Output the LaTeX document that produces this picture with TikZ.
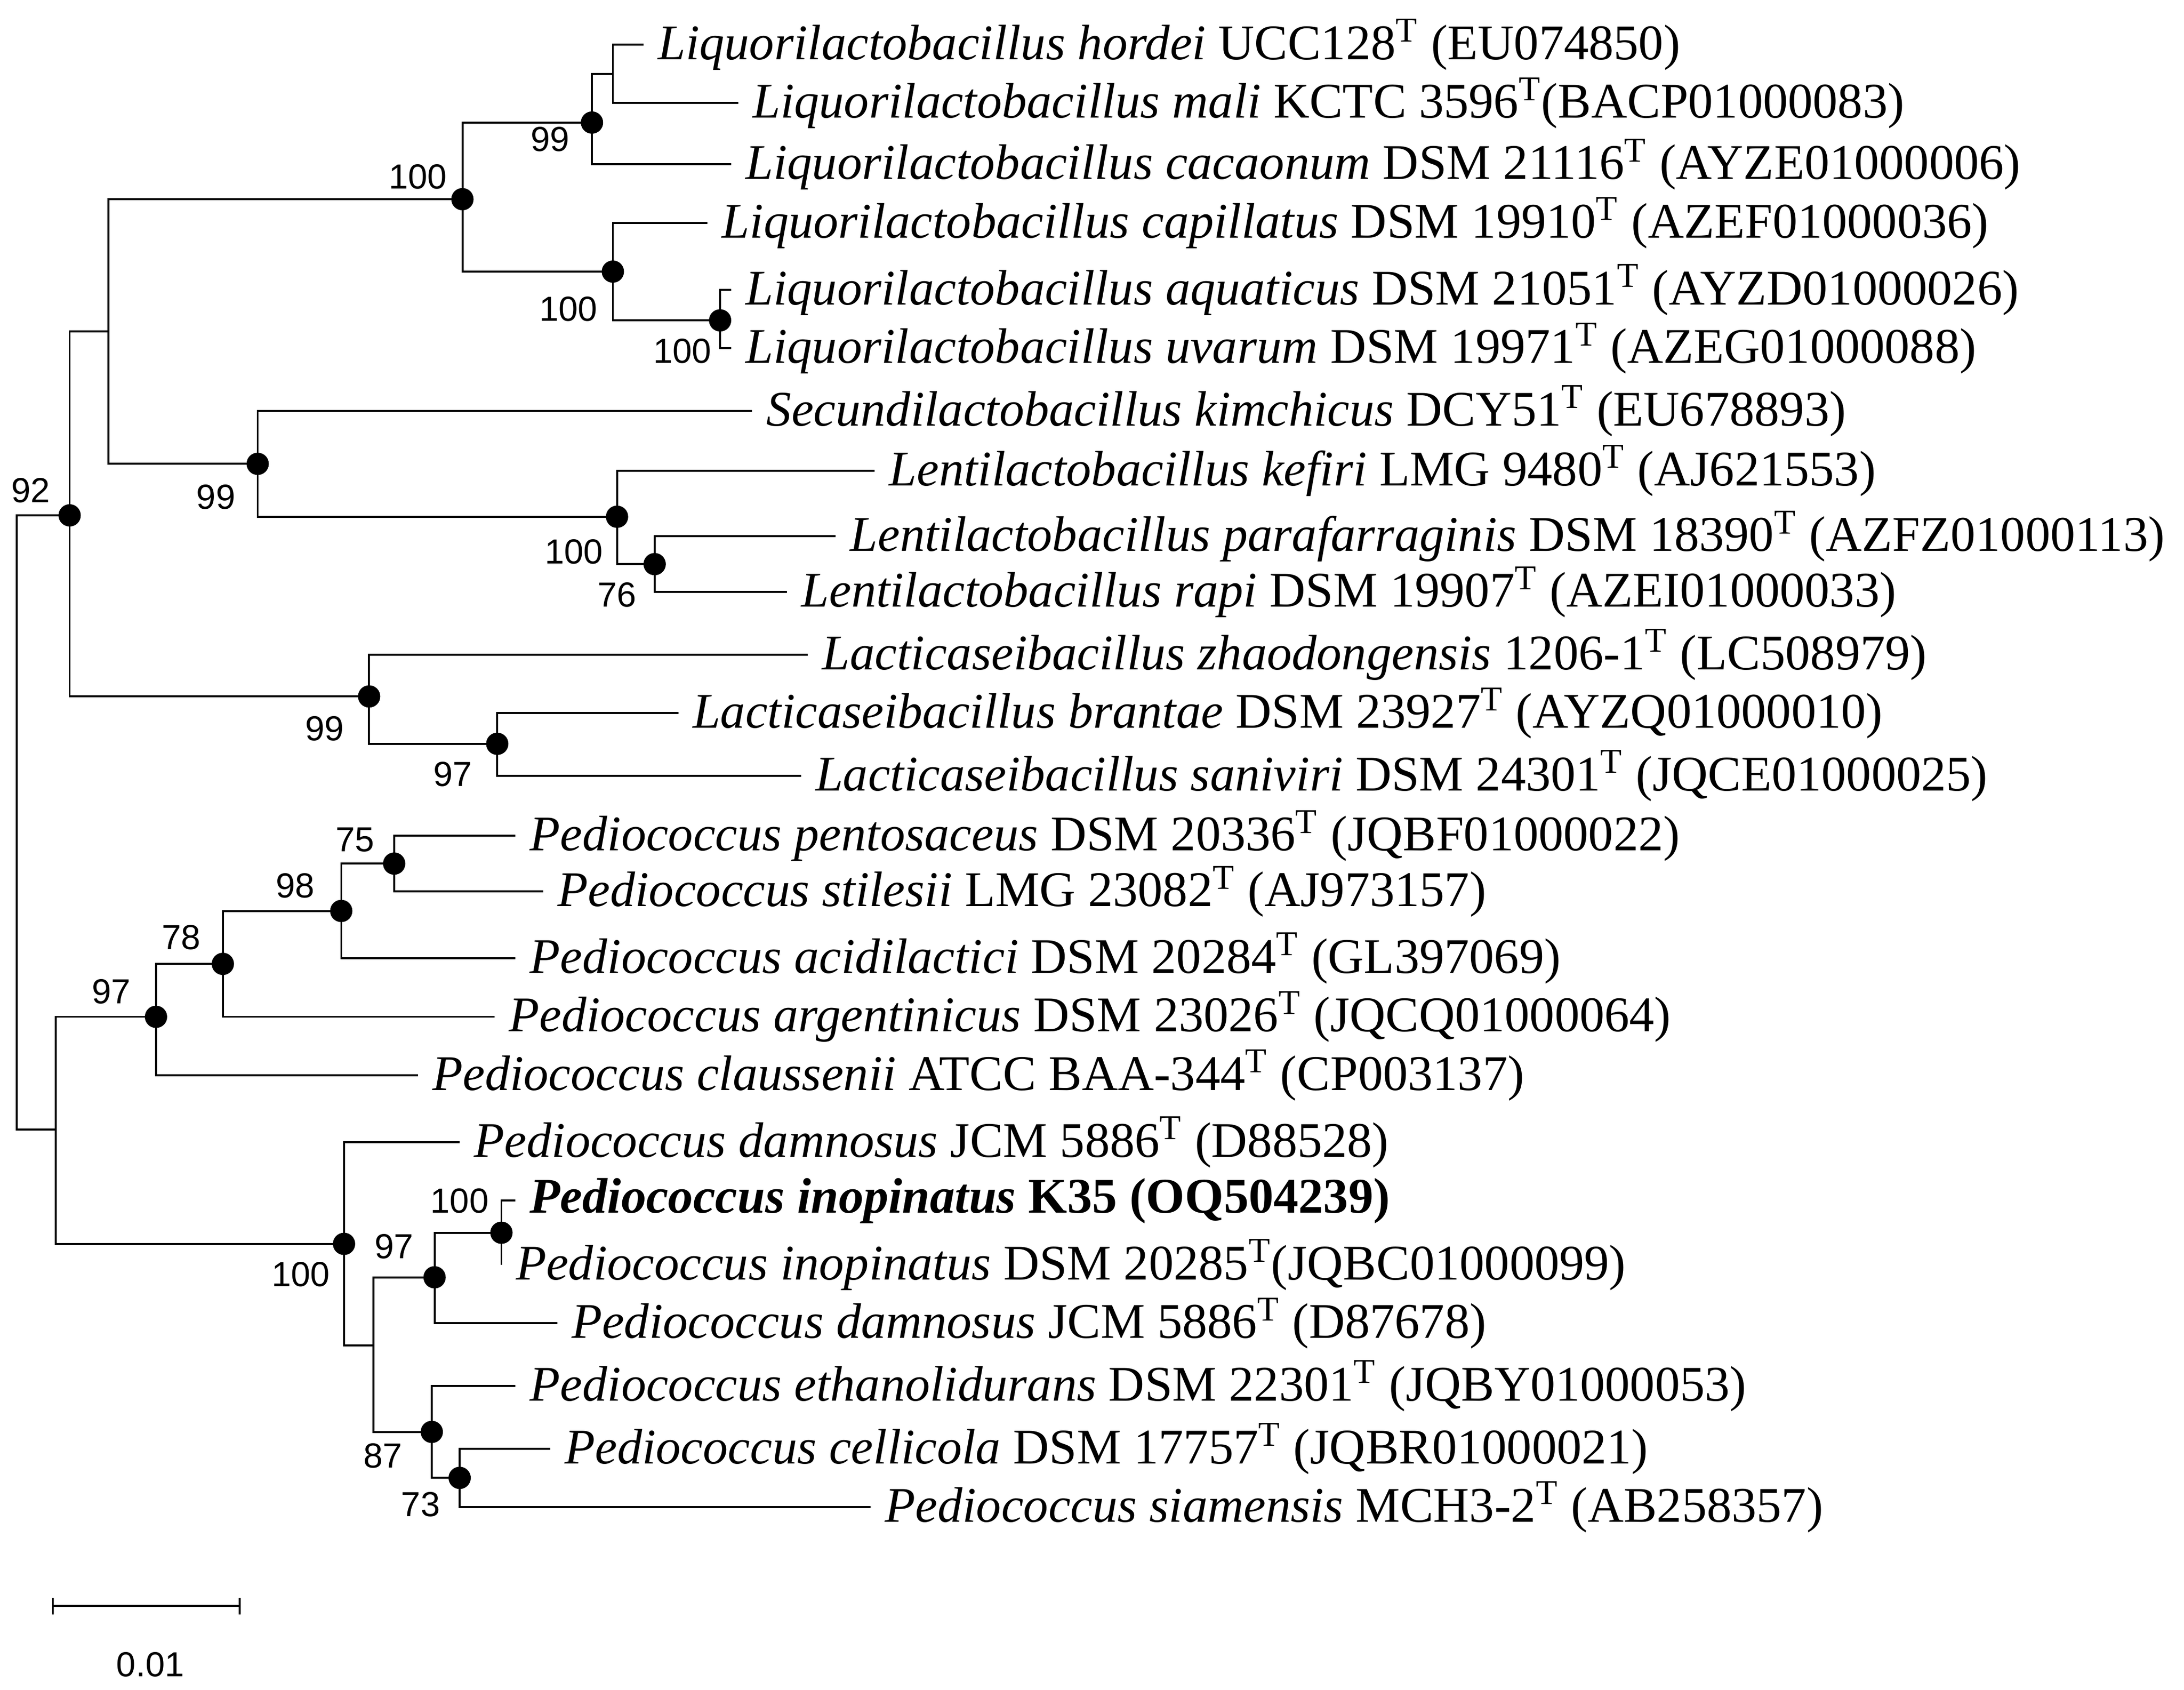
\documentclass[tikz,border=0pt]{standalone}
\usepackage{fontspec}
\setmainfont{Liberation Serif}
\newfontfamily\numfont{Liberation Sans}
\begin{document}
\begin{tikzpicture}[x=0.5pt,y=-0.5pt,
  br/.style={line width=0.7pt},
  dot/.style={circle,fill=black,inner sep=0pt,minimum size=8pt},
  lab/.style={font=\numfont\fontsize{12.5}{13}\selectfont,inner sep=0pt},
  tx/.style={anchor=west,inner sep=0pt,xshift=5pt,font=\fontsize{17.9}{19}\selectfont}]
\useasboundingbox (0,0) rectangle (1568,1213);
% internal nodes
\foreach \n/\x/\y in {R/12/590,N92/50/370,A/78/238,L100/332/143,L99a/425/88,Lx/440/53,L100b/440/195,L100c/517/230,S99/185/333,K100/443/371,K76/470/405,C99/265/500,C97/357/534,NP/40/811,P97/112/730,P78/160/692,P98/245/654,P75/283/620,Q100/247/893,Qx/268/966,Q97/312/917,Q100b/360/885,Q87/310/1028,Q73/330/1061}
  \coordinate (\n) at (\x,\y);
% leaves
\foreach \n/\x/\y in {hor/462/32,mal/530/74,cac/525/118,cap/508/160,aqu/525/208,uva/525/250,sec/540/295,kef/628/338,par/600/385,rap/565/425,zha/580/470,bra/487/512,san/575/557,pen/370/600,sti/390/640,aci/370/688,arg/355/730,cla/300/772,da1/330/820,k35/370/862,ino/360/908,da2/400/950,eth/370/995,cel/395/1040,sia/625/1082}
  \coordinate (\n) at (\x,\y);
% branches
\foreach \p/\c in {R/N92,R/NP,N92/A,N92/C99,A/L100,A/S99,L100/L99a,L100/L100b,L99a/Lx,L99a/cac,Lx/hor,Lx/mal,L100b/cap,L100b/L100c,L100c/aqu,L100c/uva,S99/sec,S99/K100,K100/kef,K100/K76,K76/par,K76/rap,C99/zha,C99/C97,C97/bra,C97/san,NP/P97,NP/Q100,P97/P78,P97/cla,P78/P98,P78/arg,P98/P75,P98/aci,P75/pen,P75/sti,Q100/da1,Q100/Qx,Qx/Q97,Qx/Q87,Q97/Q100b,Q97/da2,Q100b/k35,Q100b/ino,Q87/eth,Q87/Q73,Q73/cel,Q73/sia}
  \draw[br] (\p) |- (\c);
\foreach \n in {N92,L100,L99a,L100b,L100c,S99,K100,K76,C99,C97,P97,P78,P98,P75,Q100,Q97,Q100b,Q87,Q73}
  \node[dot] (d\n) at (\n) {};
% leaf labels
\node[tx] (thor) at (hor) {\textit{Liquorilactobacillus hordei} UCC128\textsuperscript{T} (EU074850)};
\node[tx] (tmal) at (mal) {\textit{Liquorilactobacillus mali} KCTC 3596\textsuperscript{T}(BACP01000083)};
\node[tx] (tcac) at (cac) {\textit{Liquorilactobacillus cacaonum} DSM 21116\textsuperscript{T} (AYZE01000006)};
\node[tx] (tcap) at (cap) {\textit{Liquorilactobacillus capillatus} DSM 19910\textsuperscript{T} (AZEF01000036)};
\node[tx] (taqu) at (aqu) {\textit{Liquorilactobacillus aquaticus} DSM 21051\textsuperscript{T} (AYZD01000026)};
\node[tx] (tuva) at (uva) {\textit{Liquorilactobacillus uvarum} DSM 19971\textsuperscript{T} (AZEG01000088)};
\node[tx] (tsec) at (sec) {\textit{Secundilactobacillus kimchicus} DCY51\textsuperscript{T} (EU678893)};
\node[tx] (tkef) at (kef) {\textit{Lentilactobacillus kefiri} LMG 9480\textsuperscript{T} (AJ621553)};
\node[tx] (tpar) at (par) {\textit{Lentilactobacillus parafarraginis} DSM 18390\textsuperscript{T} (AZFZ01000113)};
\node[tx] (trap) at (rap) {\textit{Lentilactobacillus rapi} DSM 19907\textsuperscript{T} (AZEI01000033)};
\node[tx] (tzha) at (zha) {\textit{Lacticaseibacillus zhaodongensis} 1206-1\textsuperscript{T} (LC508979)};
\node[tx] (tbra) at (bra) {\textit{Lacticaseibacillus brantae} DSM 23927\textsuperscript{T} (AYZQ01000010)};
\node[tx] (tsan) at (san) {\textit{Lacticaseibacillus saniviri} DSM 24301\textsuperscript{T} (JQCE01000025)};
\node[tx] (tpen) at (pen) {\textit{Pediococcus pentosaceus} DSM 20336\textsuperscript{T} (JQBF01000022)};
\node[tx] (tsti) at (sti) {\textit{Pediococcus stilesii} LMG 23082\textsuperscript{T} (AJ973157)};
\node[tx] (taci) at (aci) {\textit{Pediococcus acidilactici} DSM 20284\textsuperscript{T} (GL397069)};
\node[tx] (targ) at (arg) {\textit{Pediococcus argentinicus} DSM 23026\textsuperscript{T} (JQCQ01000064)};
\node[tx] (tcla) at (cla) {\textit{Pediococcus claussenii} ATCC BAA-344\textsuperscript{T} (CP003137)};
\node[tx] (tda1) at (da1) {\textit{Pediococcus damnosus} JCM 5886\textsuperscript{T} (D88528)};
\node[tx] (tk35) at (k35) {\textbf{\textit{Pediococcus inopinatus} K35 (OQ504239)}};
\node[tx] (tino) at (ino) {\textit{Pediococcus inopinatus} DSM 20285\textsuperscript{T}(JQBC01000099)};
\node[tx] (tda2) at (da2) {\textit{Pediococcus damnosus} JCM 5886\textsuperscript{T} (D87678)};
\node[tx] (teth) at (eth) {\textit{Pediococcus ethanolidurans} DSM 22301\textsuperscript{T} (JQBY01000053)};
\node[tx] (tcel) at (cel) {\textit{Pediococcus cellicola} DSM 17757\textsuperscript{T} (JQBR01000021)};
\node[tx] (tsia) at (sia) {\textit{Pediococcus siamensis} MCH3-2\textsuperscript{T} (AB258357)};
% bootstrap labels
\foreach \t/\x/\y [count=\i] in {99/395/100,100/300/127,100/408/222,100/490/252,99/155/357,100/412/396,76/443/427,99/233/523,97/325/556,92/22/352,75/255/603,98/212/636,78/130/673,97/80/712,100/216/915,100/330/862,97/283/895,87/275/1045,73/302/1080}
  \node[lab] (b\i) at (\x,\y) {\t};
% scale bar
\coordinate (s1) at (38,1153);
\coordinate (s2) at (172,1153);
\draw[br] (s1) -- (s2);
\draw[br] ([yshift=3pt]s1) -- ([yshift=-3pt]s1);
\draw[br] ([yshift=3pt]s2) -- ([yshift=-3pt]s2);
\node[lab] (sc) at (108,1195) {0.01};
\end{tikzpicture}
\end{document}
